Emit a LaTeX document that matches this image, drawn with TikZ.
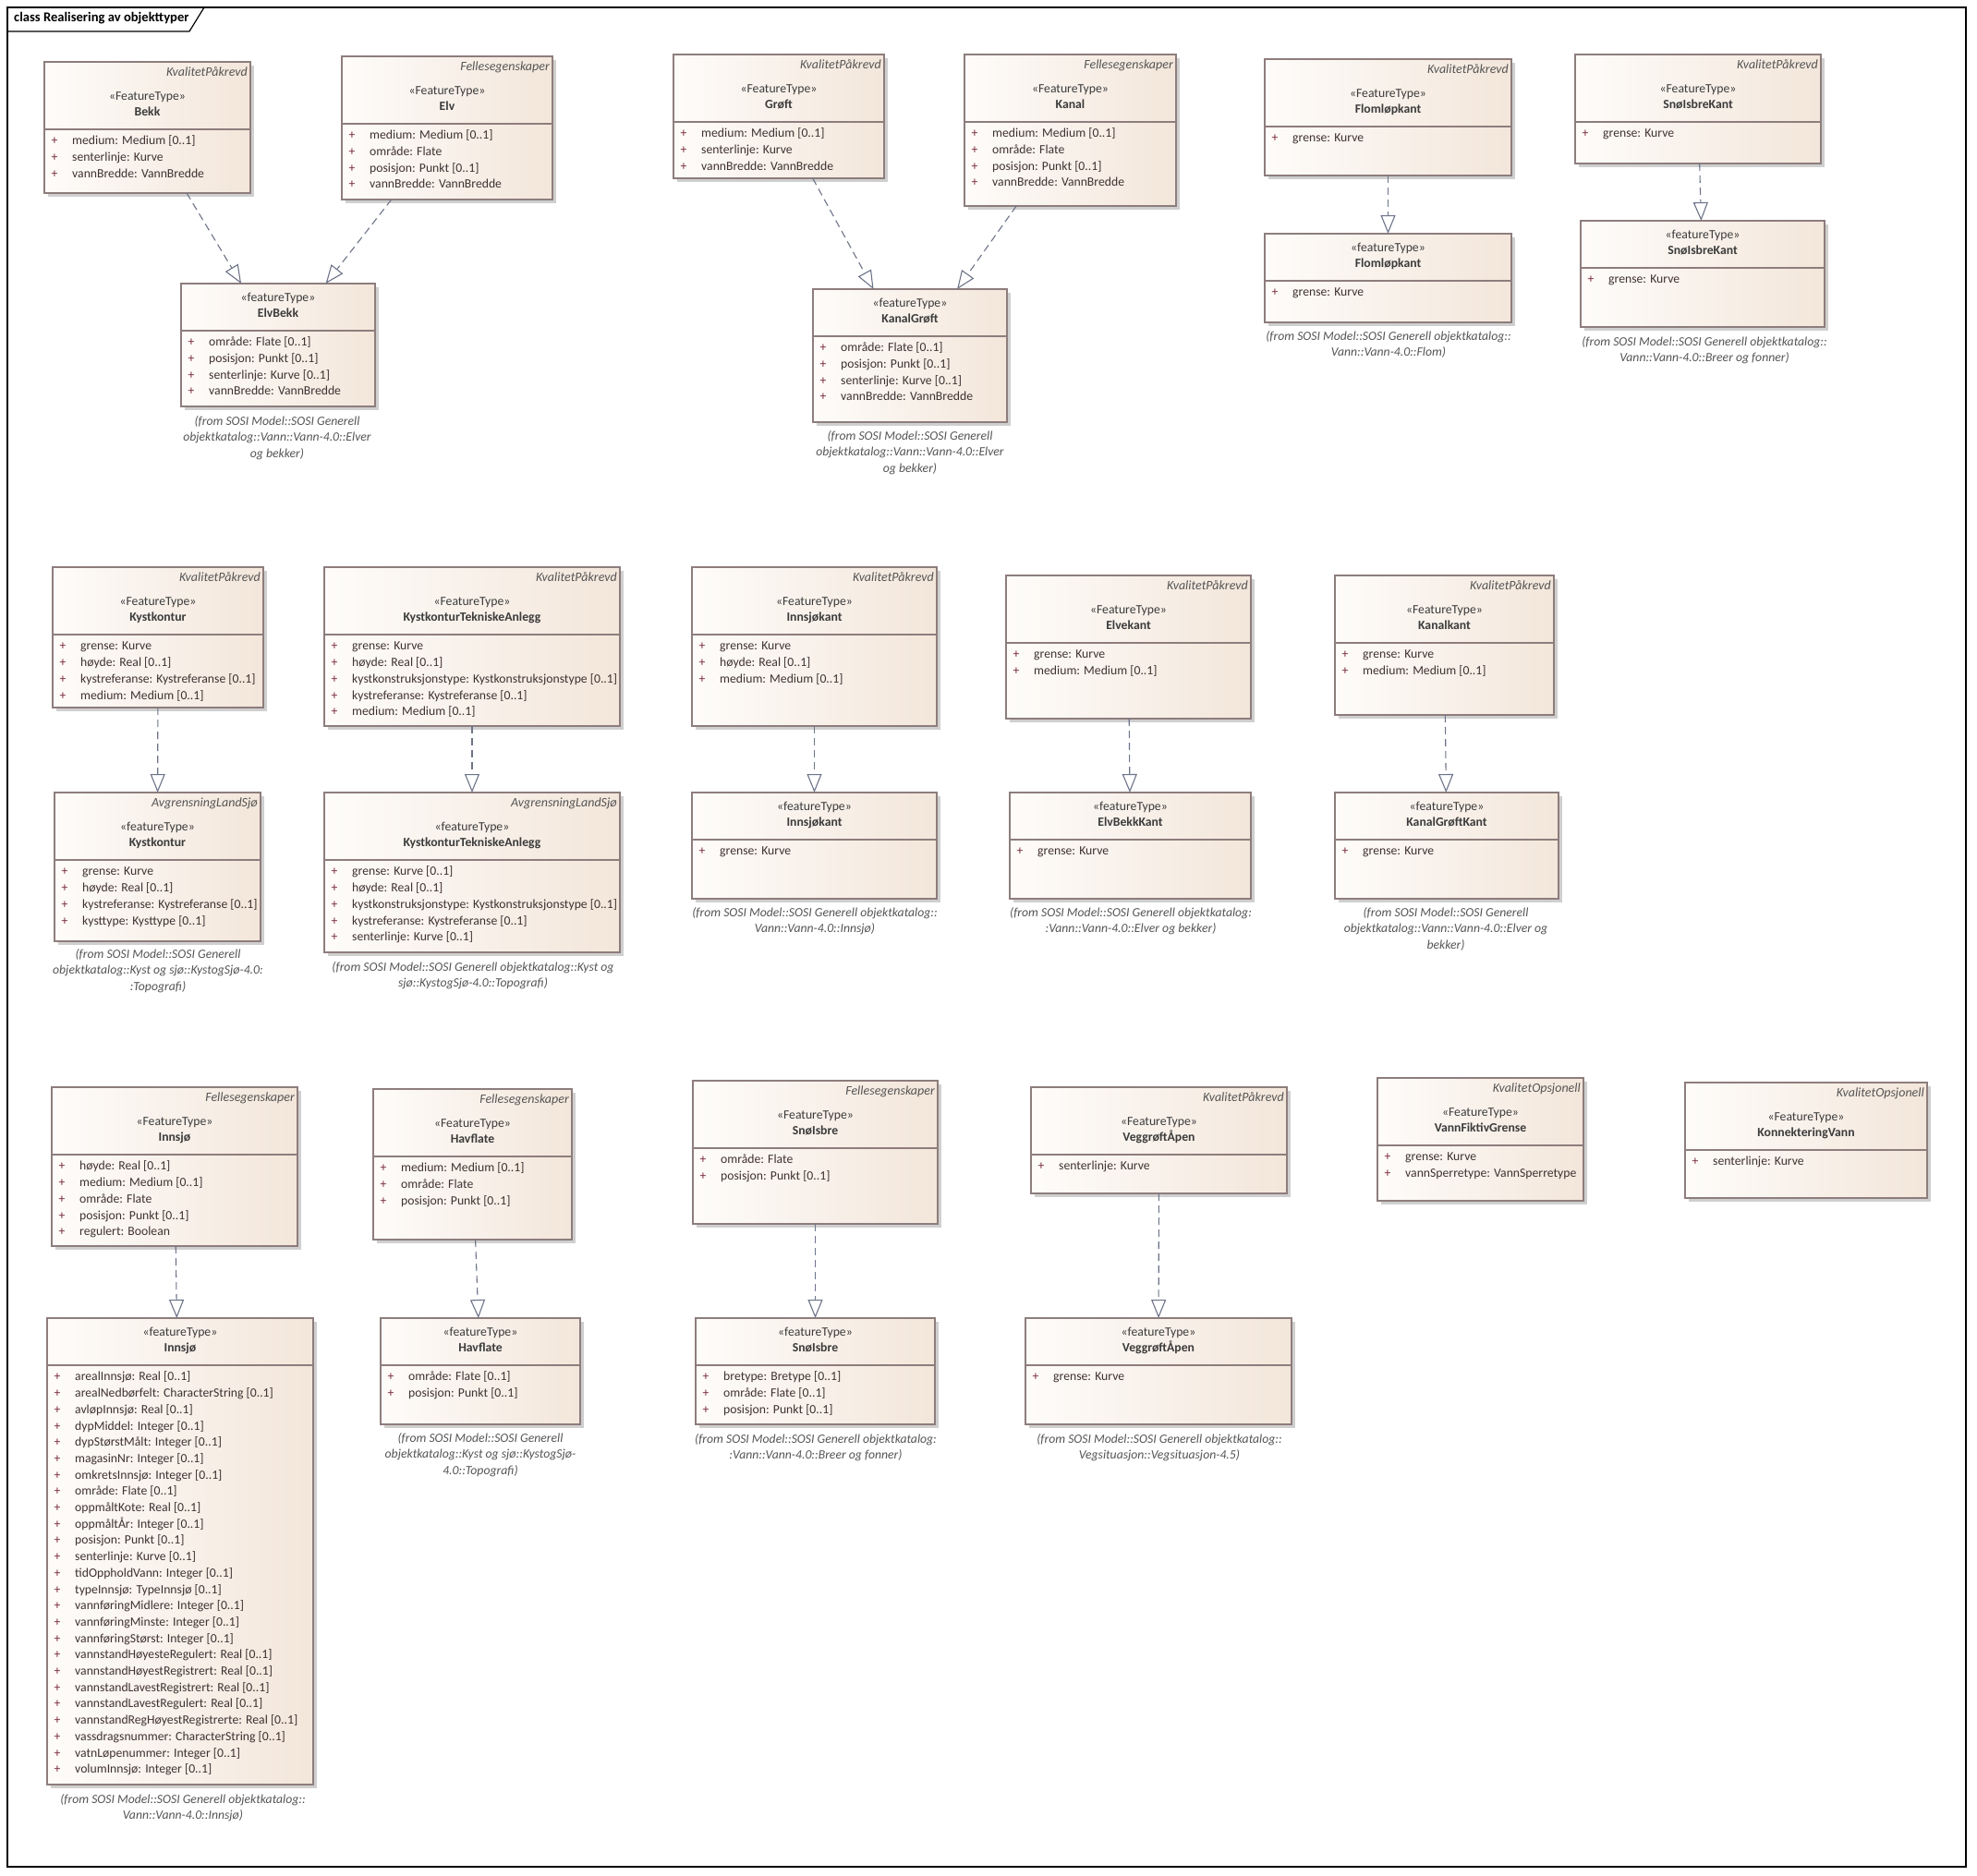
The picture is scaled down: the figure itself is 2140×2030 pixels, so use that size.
\documentclass[tikz,border=0pt]{standalone}
\usepackage{fontspec}
\setmainfont{Carlito}
\usetikzlibrary{arrows.meta,shadows}

\definecolor{clsborder}{HTML}{8E7D7D}
\definecolor{clsfillL}{HTML}{FEFCFA}
\definecolor{clsfillR}{HTML}{F3E6DA}
\definecolor{clsshadow}{HTML}{CFCFCF}
\definecolor{clstext}{HTML}{3B3B3B}
\definecolor{attrtext}{HTML}{3F3232}
\definecolor{plustext}{HTML}{7A2A3A}
\definecolor{tagtext}{HTML}{555555}
\definecolor{linkcol}{HTML}{6D7488}

\tikzset{
  clsbox/.style={draw=clsborder, line width=1.1pt, left color=clsfillL, right color=clsfillR,
    inner sep=0pt, outer sep=0pt,
    drop shadow={shadow xshift=4pt, shadow yshift=-4pt, fill=clsshadow, opacity=1}},
  clsrule/.style={draw=clsborder, line width=1.1pt},
  txt/.style={inner sep=0pt, anchor=mid, font=\fontsize{13.7}{17.7}\selectfont, text=clstext},
  tagtxt/.style={txt, anchor=mid east, font=\fontsize{14}{17.7}\selectfont\itshape, text=tagtext},
  nametxt/.style={txt, font=\fontsize{13.7}{17.7}\selectfont\bfseries},
  attrtxt/.style={txt, anchor=mid west, text=attrtext},
  plustxt/.style={txt, text=plustext},
  captxt/.style={inner sep=0pt, anchor=north, align=center,
    font=\fontsize{13.7}{17.6}\selectfont\itshape, text=tagtext},
  realize/.style={draw=linkcol, line width=1.1pt, dash pattern=on 8pt off 5pt,
    -{Triangle[length=20pt, width=16pt, fill=white]}},
}

% class box: id, x1, y1, x2, y2, tagged value (or empty), stereotype, name, attributes
\newcommand\umlclass[9]{%
  \pgfmathsetmacro\bw{#4-#2}%
  \pgfmathsetmacro\bh{#5-#3}%
  \pgfmathsetmacro\cx{(#2+#4)/2}%
  \node[clsbox, minimum width=\bw pt, minimum height=\bh pt, anchor=north west] (#1) at (#2,#3) {};
  \def\tagval{#6}%
  \ifx\tagval\empty
    \node[txt] (#1-st) at (\cx,#3+17) {«#7»};
    \node[nametxt] (#1-nm) at (\cx,#3+34) {#8};
    \pgfmathsetmacro\dv{#3+51}%
  \else
    \node[tagtxt] (#1-tag) at (#4-3,#3+13) {#6};
    \node[txt] (#1-st) at (\cx,#3+39) {«#7»};
    \node[nametxt] (#1-nm) at (\cx,#3+56) {#8};
    \pgfmathsetmacro\dv{#3+73}%
  \fi
  \draw[clsrule] (#2,\dv) -- (#4,\dv);
  \foreach \a [count=\i from 0] in {#9} {
    \node[plustxt] (#1-p\i) at (#2+11,\dv+14.5+17.7*\i) {+};
    \node[attrtxt] (#1-a\i) at (#2+30,\dv+14.5+17.7*\i) {\a};
  }
}

% package note under a class
\newcommand\umlnote[4]{\node[captxt] (#1) at (#2,#3-7) {#4};}

\begin{document}
\begin{tikzpicture}[x=1pt, y=-1pt]
\useasboundingbox (0,0) rectangle (2140,2030);
\fill[white] (0,0) rectangle (2140,2030);

% diagram frame with name tab
\draw[line width=1.2pt] (8,8) rectangle (2128,2021);
\draw[line width=1.2pt] (8,34) -- (205,34) -- (221,8);
\node[inner sep=0pt, anchor=mid west, font=\fontsize{14.6}{18}\selectfont\bfseries] (title) at (15,21) {class Realisering av objekttyper};

% --- rivers and streams
\umlclass{bekk}{48}{67}{271}{209}{KvalitetPåkrevd}{FeatureType}{Bekk}
  {{medium: Medium [0..1]},{senterlinje: Kurve},{vannBredde: VannBredde}}
\umlclass{elv}{370}{61}{598}{216}{Fellesegenskaper}{FeatureType}{Elv}
  {{medium: Medium [0..1]},{område: Flate},{posisjon: Punkt [0..1]},{vannBredde: VannBredde}}
\umlclass{elvbekk}{196}{307}{406}{440}{}{featureType}{ElvBekk}
  {{område: Flate [0..1]},{posisjon: Punkt [0..1]},{senterlinje: Kurve [0..1]},{vannBredde: VannBredde}}
\umlnote{cap-elvbekk}{300}{457}{(from SOSI Model::SOSI Generell\\objektkatalog::Vann::Vann-4.0::Elver\\og bekker)}

% --- ditches and canals
\umlclass{groft}{729}{59}{957}{193}{KvalitetPåkrevd}{FeatureType}{Grøft}
  {{medium: Medium [0..1]},{senterlinje: Kurve},{vannBredde: VannBredde}}
\umlclass{kanal}{1044}{59}{1273}{223}{Fellesegenskaper}{FeatureType}{Kanal}
  {{medium: Medium [0..1]},{område: Flate},{posisjon: Punkt [0..1]},{vannBredde: VannBredde}}
\umlclass{kanalgroft}{880}{313}{1090}{457}{}{featureType}{KanalGrøft}
  {{område: Flate [0..1]},{posisjon: Punkt [0..1]},{senterlinje: Kurve [0..1]},{vannBredde: VannBredde}}
\umlnote{cap-kanalgroft}{985}{473}{(from SOSI Model::SOSI Generell\\objektkatalog::Vann::Vann-4.0::Elver\\og bekker)}

% --- flood channel edge
\umlclass{flomF}{1369}{64}{1636}{190}{KvalitetPåkrevd}{FeatureType}{Flomløpkant}
  {{grense: Kurve}}
\umlclass{flomf}{1369}{253}{1636}{349}{}{featureType}{Flomløpkant}
  {{grense: Kurve}}
\umlnote{cap-flom}{1503}{365}{(from SOSI Model::SOSI Generell objektkatalog::\\Vann::Vann-4.0::Flom)}

% --- glacier edge
\umlclass{snokantF}{1705}{59}{1971}{177}{KvalitetPåkrevd}{FeatureType}{SnøIsbreKant}
  {{grense: Kurve}}
\umlclass{snokantf}{1711}{239}{1975}{354}{}{featureType}{SnøIsbreKant}
  {{grense: Kurve}}
\umlnote{cap-snokant}{1845}{371}{(from SOSI Model::SOSI Generell objektkatalog::\\Vann::Vann-4.0::Breer og fonner)}

% --- coastline
\umlclass{kystF}{57}{614}{285}{766}{KvalitetPåkrevd}{FeatureType}{Kystkontur}
  {{grense: Kurve},{høyde: Real [0..1]},{kystreferanse: Kystreferanse [0..1]},{medium: Medium [0..1]}}
\umlclass{kystf}{59}{858}{282}{1019}{AvgrensningLandSjø}{featureType}{Kystkontur}
  {{grense: Kurve},{høyde: Real [0..1]},{kystreferanse: Kystreferanse [0..1]},{kysttype: Kysttype [0..1]}}
\umlnote{cap-kyst}{171}{1034}{(from SOSI Model::SOSI Generell\\objektkatalog::Kyst og sjø::KystogSjø-4.0:\\:Topografi)}

\umlclass{ktaF}{351}{614}{671}{786}{KvalitetPåkrevd}{FeatureType}{KystkonturTekniskeAnlegg}
  {{grense: Kurve},{høyde: Real [0..1]},{kystkonstruksjonstype: Kystkonstruksjonstype [0..1]},{kystreferanse: Kystreferanse [0..1]},{medium: Medium [0..1]}}
\umlclass{ktaf}{351}{858}{671}{1031}{AvgrensningLandSjø}{featureType}{KystkonturTekniskeAnlegg}
  {{grense: Kurve [0..1]},{høyde: Real [0..1]},{kystkonstruksjonstype: Kystkonstruksjonstype [0..1]},{kystreferanse: Kystreferanse [0..1]},{senterlinje: Kurve [0..1]}}
\umlnote{cap-kta}{512}{1048}{(from SOSI Model::SOSI Generell objektkatalog::Kyst og\\sjø::KystogSjø-4.0::Topografi)}

% --- edges of lakes, rivers and canals
\umlclass{innkantF}{749}{614}{1014}{786}{KvalitetPåkrevd}{FeatureType}{Innsjøkant}
  {{grense: Kurve},{høyde: Real [0..1]},{medium: Medium [0..1]}}
\umlclass{innkantf}{749}{858}{1014}{973}{}{featureType}{Innsjøkant}
  {{grense: Kurve}}
\umlnote{cap-innkant}{882}{989}{(from SOSI Model::SOSI Generell objektkatalog::\\Vann::Vann-4.0::Innsjø)}

\umlclass{elvekant}{1089}{623}{1354}{778}{KvalitetPåkrevd}{FeatureType}{Elvekant}
  {{grense: Kurve},{medium: Medium [0..1]}}
\umlclass{elvbekkkant}{1093}{858}{1354}{973}{}{featureType}{ElvBekkKant}
  {{grense: Kurve}}
\umlnote{cap-elvbekkkant}{1224}{989}{(from SOSI Model::SOSI Generell objektkatalog:\\:Vann::Vann-4.0::Elver og bekker)}

\umlclass{kanalkant}{1445}{623}{1682}{774}{KvalitetPåkrevd}{FeatureType}{Kanalkant}
  {{grense: Kurve},{medium: Medium [0..1]}}
\umlclass{kanalgroftkant}{1445}{858}{1687}{973}{}{featureType}{KanalGrøftKant}
  {{grense: Kurve}}
\umlnote{cap-kanalgroftkant}{1565}{989}{(from SOSI Model::SOSI Generell\\objektkatalog::Vann::Vann-4.0::Elver og\\bekker)}

% --- lake
\umlclass{innsjoF}{56}{1177}{322}{1349}{Fellesegenskaper}{FeatureType}{Innsjø}
  {{høyde: Real [0..1]},{medium: Medium [0..1]},{område: Flate},{posisjon: Punkt [0..1]},{regulert: Boolean}}
\umlclass{innsjof}{51}{1427}{339}{1932}{}{featureType}{Innsjø}
  {{arealInnsjø: Real [0..1]},{arealNedbørfelt: CharacterString [0..1]},{avløpInnsjø: Real [0..1]},
   {dypMiddel: Integer [0..1]},{dypStørstMålt: Integer [0..1]},{magasinNr: Integer [0..1]},
   {omkretsInnsjø: Integer [0..1]},{område: Flate [0..1]},{oppmåltKote: Real [0..1]},
   {oppmåltÅr: Integer [0..1]},{posisjon: Punkt [0..1]},{senterlinje: Kurve [0..1]},
   {tidOppholdVann: Integer [0..1]},{typeInnsjø: TypeInnsjø [0..1]},{vannføringMidlere: Integer [0..1]},
   {vannføringMinste: Integer [0..1]},{vannføringStørst: Integer [0..1]},
   {vannstandHøyesteRegulert: Real [0..1]},{vannstandHøyestRegistrert: Real [0..1]},
   {vannstandLavestRegistrert: Real [0..1]},{vannstandLavestRegulert: Real [0..1]},
   {vannstandRegHøyestRegistrerte: Real [0..1]},{vassdragsnummer: CharacterString [0..1]},
   {vatnLøpenummer: Integer [0..1]},{volumInnsjø: Integer [0..1]}}
\umlnote{cap-innsjo}{198}{1949}{(from SOSI Model::SOSI Generell objektkatalog::\\Vann::Vann-4.0::Innsjø)}

% --- sea surface
\umlclass{havF}{404}{1179}{619}{1342}{Fellesegenskaper}{FeatureType}{Havflate}
  {{medium: Medium [0..1]},{område: Flate},{posisjon: Punkt [0..1]}}
\umlclass{havf}{412}{1427}{628}{1542}{}{featureType}{Havflate}
  {{område: Flate [0..1]},{posisjon: Punkt [0..1]}}
\umlnote{cap-hav}{520}{1558}{(from SOSI Model::SOSI Generell\\objektkatalog::Kyst og sjø::KystogSjø-\\4.0::Topografi)}

% --- glacier
\umlclass{snoF}{750}{1170}{1015}{1325}{Fellesegenskaper}{FeatureType}{SnøIsbre}
  {{område: Flate},{posisjon: Punkt [0..1]}}
\umlclass{snof}{753}{1427}{1012}{1542}{}{featureType}{SnøIsbre}
  {{bretype: Bretype [0..1]},{område: Flate [0..1]},{posisjon: Punkt [0..1]}}
\umlnote{cap-sno}{883}{1559}{(from SOSI Model::SOSI Generell objektkatalog:\\:Vann::Vann-4.0::Breer og fonner)}

% --- open road ditch
\umlclass{veggF}{1116}{1177}{1393}{1292}{KvalitetPåkrevd}{FeatureType}{VeggrøftÅpen}
  {{senterlinje: Kurve}}
\umlclass{veggf}{1110}{1427}{1398}{1542}{}{featureType}{VeggrøftÅpen}
  {{grense: Kurve}}
\umlnote{cap-vegg}{1255}{1559}{(from SOSI Model::SOSI Generell objektkatalog::\\Vegsituasjon::Vegsituasjon-4.5)}

% --- stand-alone feature types
\umlclass{vannfiktiv}{1491}{1167}{1714}{1300}{KvalitetOpsjonell}{FeatureType}{VannFiktivGrense}
  {{grense: Kurve},{vannSperretype: VannSperretype}}
\umlclass{konnekt}{1824}{1172}{2086}{1297}{KvalitetOpsjonell}{FeatureType}{KonnekteringVann}
  {{senterlinje: Kurve}}

% realisation links
\draw[realize] (bekk) -- (elvbekk);
\draw[realize] (elv) -- (elvbekk);
\draw[realize] (groft) -- (kanalgroft);
\draw[realize] (kanal) -- (kanalgroft);
\draw[realize] (flomF) -- (flomf);
\draw[realize] (snokantF) -- (snokantf);
\draw[realize] (kystF) -- (kystf);
\draw[realize] (ktaF) -- (ktaf);
\draw[realize] (innkantF) -- (innkantf);
\draw[realize] (elvekant) -- (elvbekkkant);
\draw[realize] (kanalkant) -- (kanalgroftkant);
\draw[realize] (innsjoF) -- (innsjof);
\draw[realize] (havF) -- (havf);
\draw[realize] (snoF) -- (snof);
\draw[realize] (veggF) -- (veggf);
\end{tikzpicture}
\end{document}
